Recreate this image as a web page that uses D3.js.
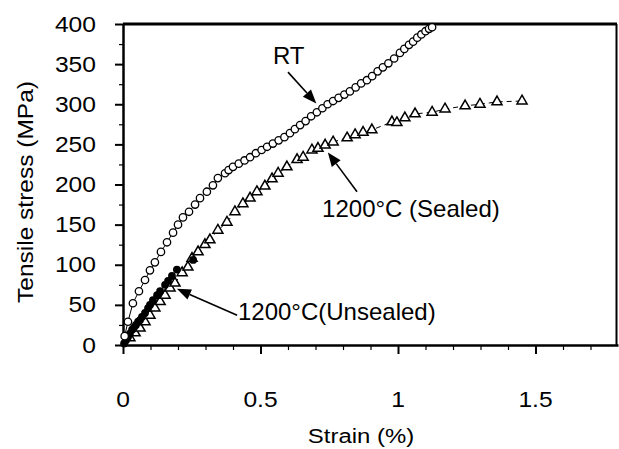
<!DOCTYPE html>
<html><head><meta charset="utf-8">
<script src="https://cdn.jsdelivr.net/npm/d3@7"></script>
<style>
body{margin:0;background:#fff;}
svg{display:block;font-family:"Liberation Sans",Arial,Helvetica,sans-serif;}
</style></head>
<body>
<svg id="c" width="619" height="449"></svg>
<script>
// ---- data (strain %, tensile stress MPa) ----
const rtStrain = [0,0.006,0.018,0.036,0.058,0.080,0.098,0.116,0.138,0.160,0.182,0.200,0.218,0.240,0.262,0.280,0.305,0.327,0.345,0.371,0.384,0.400,0.421,0.442,0.462,0.483,0.504,0.524,0.545,0.566,0.587,0.607,0.625,0.644,0.664,0.684,0.705,0.725,0.744,0.764,0.784,0.805,0.825,0.846,0.866,0.887,0.906,0.926,0.945,0.965,0.986,1.007,1.023,1.040,1.055,1.070,1.085,1.100,1.113,1.124];
const rtStress = [0,11,29,52,67,81,93,103,116,128,140,150,159,166,175,183,191,199,208,214,218,222,226,230,234,239,243,247,251,255,259,264,269,274,279,285,290,295,300,304,308,312,316,321,326,330,335,341,346,351,357,364,369,374,378,383,387,391,394,396];

const sealedStrain = [0,0.025,0.044,0.062,0.080,0.098,0.116,0.135,0.153,0.171,0.189,0.215,0.236,0.251,0.273,0.298,0.316,0.345,0.378,0.407,0.436,0.462,0.487,0.516,0.542,0.564,0.596,0.633,0.655,0.687,0.709,0.735,0.764,0.815,0.844,0.873,0.905,0.978,0.996,1.025,1.062,1.124,1.171,1.244,1.298,1.360,1.451];
const sealedStress = [0,9,15,21,29,37,46,54,62,71,77,90,97,108,116,125,131,143,153,166,176,183,191,198,207,214,222,231,234,243,245,249,253,258,262,265,268,278,277,283,288,290,294,298,300,303,304];

const unsealedStrain = [0.004,0.011,0.018,0.025,0.033,0.040,0.047,0.055,0.062,0.069,0.080,0.091,0.098,0.109,0.124,0.135,0.153,0.164,0.178,0.196,0.255];
const unsealedStress = [2,6,10,14,19,22,25,29,31,35,40,46,50,56,62,67,75,80,86,94,106];

const xTicks = [0,0.5,1,1.5];
const xTickLabels = ["0","0.5","1","1.5"];
const xMinor = [0.1,0.2,0.3,0.4,0.6,0.7,0.8,0.9,1.1,1.2,1.3,1.4,1.6,1.7];
const yTicks = [0,50,100,150,200,250,300,350,400];
const yTickLabels = ["0","50","100","150","200","250","300","350","400"];
const yMinor = [25,75,125,175,225,275,325,375];

const annotations = [
  {text:"RT", lx:0.545, ly:350, from:[0.600,340], to:[0.703,301]},
  {text:"1200\u00B0C (Sealed)", lx:0.724, ly:160, from:[0.851,191], to:[0.745,240]},
  {text:"1200\u00B0C(Unsealed)", lx:0.418, ly:31, from:[0.415,37], to:[0.196,70]}
];

// ---- scales ----
const x = d3.scaleLinear().domain([0,1.8]).range([123,618]);
const y = d3.scaleLinear().domain([0,400]).range([345,24]);
const svg = d3.select("#c");

const zip = (a,b)=>a.map((v,i)=>[v,b[i]]);
const rt = zip(rtStrain, rtStress);
const sealed = zip(sealedStrain, sealedStress);
const unsealed = zip(unsealedStrain, unsealedStress);

// frame: top & right
svg.append("line").attr("x1",x(0)).attr("x2",x(1.8)-1).attr("y1",y(400)).attr("y2",y(400))
  .attr("stroke","#000").attr("stroke-width",3);
svg.append("line").attr("x1",x(1.8)-1.5).attr("x2",x(1.8)-1.5).attr("y1",y(400)).attr("y2",y(0))
  .attr("stroke","#000").attr("stroke-width",2);

// axes
const gx = svg.append("g").attr("transform",`translate(0,${y(0)})`)
  .call(d3.axisBottom(x).tickValues(xTicks).tickSize(9).tickSizeOuter(0).tickFormat(""));
const gxm = svg.append("g").attr("transform",`translate(0,${y(0)})`)
  .call(d3.axisBottom(x).tickValues(xMinor).tickSize(5).tickSizeOuter(0).tickFormat(""));
const gy = svg.append("g").attr("transform",`translate(${x(0)},0)`)
  .call(d3.axisLeft(y).tickValues(yTicks).tickSize(8).tickSizeOuter(0).tickFormat(""));
const gym = svg.append("g").attr("transform",`translate(${x(0)},0)`)
  .call(d3.axisLeft(y).tickValues(yMinor).tickSize(4).tickSizeOuter(0).tickFormat(""));
[gx,gy].forEach(g=>{g.select(".domain").attr("stroke-width",2.5);g.selectAll(".tick line").attr("stroke-width",2);});
[gxm,gym].forEach(g=>{g.select(".domain").remove();g.selectAll(".tick line").attr("stroke-width",1.2);});

// tick labels
svg.append("g").selectAll("text").data(xTicks).join("text")
  .attr("transform",d=>`translate(${x(d)},407) scale(1.12,1)`)
  .attr("text-anchor","middle").attr("font-size",22).attr("fill","#000")
  .text((d,i)=>xTickLabels[i]);
svg.append("g").selectAll("text").data(yTicks).join("text")
  .attr("transform",d=>`translate(96,${y(d)+7.5}) scale(1.12,1)`)
  .attr("text-anchor","end").attr("font-size",22).attr("fill","#000")
  .text((d,i)=>yTickLabels[i]);

// axis titles
svg.append("text").attr("transform","translate(361,443) scale(1.14,1)")
  .attr("text-anchor","middle").attr("font-size",21).text("Strain (%)");
svg.append("text").attr("transform","translate(33,192) rotate(-90) scale(1.14,1)")
  .attr("text-anchor","middle").attr("font-size",21.5).text("Tensile stress (MPa)");

// lines
const line = d3.line().x(d=>x(d[0])).y(d=>y(d[1]));
svg.append("path").attr("d",line(sealed)).attr("fill","none").attr("stroke","#000")
  .attr("stroke-width",1).attr("stroke-dasharray","5,4");
svg.append("path").attr("d",line(rt)).attr("fill","none").attr("stroke","#000").attr("stroke-width",1);

// sealed triangles
const tri = d3.symbol().type(d3.symbolTriangle).size(44);
svg.append("g").selectAll("path").data(sealed.slice(1)).join("path")
  .attr("d",tri).attr("transform",d=>`translate(${x(d[0])},${y(d[1])})`)
  .attr("fill","#fff").attr("stroke","#000").attr("stroke-width",1.5);

// unsealed filled circles
svg.append("g").selectAll("circle").data(unsealed).join("circle")
  .attr("cx",d=>x(d[0])).attr("cy",d=>y(d[1])).attr("r",3.9).attr("fill","#000");

// RT open circles
svg.append("g").selectAll("circle").data(rt.slice(1)).join("circle")
  .attr("cx",d=>x(d[0])).attr("cy",d=>y(d[1])).attr("r",3.7)
  .attr("fill","#fff").attr("stroke","#000").attr("stroke-width",1.3);

// annotations
annotations.forEach(a=>{
  svg.append("text").attr("x",x(a.lx)).attr("y",y(a.ly)).attr("font-size",24).attr("fill","#000").text(a.text);
  const x1=x(a.from[0]), y1=y(a.from[1]), x2=x(a.to[0]), y2=y(a.to[1]);
  const dx=x2-x1, dy=y2-y1, L=Math.hypot(dx,dy), ux=dx/L, uy=dy/L;
  const hl=14, hw=5.5;
  const bx=x2-ux*hl, by=y2-uy*hl;
  svg.append("line").attr("x1",x1).attr("y1",y1).attr("x2",bx).attr("y2",by)
    .attr("stroke","#000").attr("stroke-width",1.6);
  svg.append("path").attr("d",`M${x2},${y2}L${bx-uy*hw},${by+ux*hw}L${bx+uy*hw},${by-ux*hw}Z`).attr("fill","#000");
});
</script>
</body></html>
